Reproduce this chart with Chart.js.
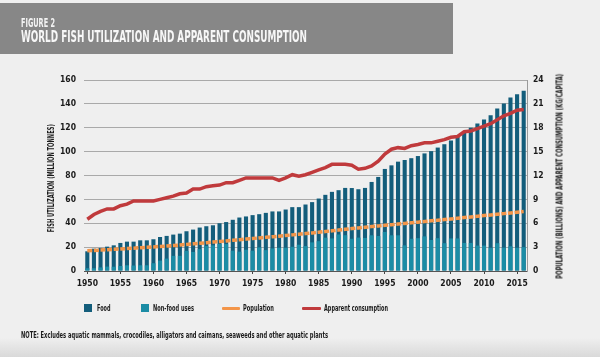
<!DOCTYPE html>
<html><head><meta charset="utf-8">
<script src="https://cdn.jsdelivr.net/npm/chart.js@4/dist/chart.umd.min.js"></script>
<style>
html,body{margin:0;padding:0;}
body{width:600px;height:357px;position:relative;overflow:hidden;background:linear-gradient(#efefef 0px,#efefef 338px,#d9d9d9 357px);font-family:"Liberation Sans Narrow","DejaVu Sans Condensed","Roboto Condensed","Liberation Sans",sans-serif;}
#band{position:absolute;left:0;top:3px;width:453px;height:51px;background:#878787;}
.t{position:absolute;white-space:nowrap;line-height:1;transform-origin:0 50%;font-weight:bold;color:#1a1a1a;}
.box{position:absolute;width:8px;height:8px;}
.ln{position:absolute;height:3px;border-radius:1px;}
#cv{position:absolute;left:0;top:0;}
</style></head>
<body>
<div id="band"></div>
<canvas id="cv" width="600" height="357"></canvas>
<div id="texts"></div>
<script>
const years = ["1950","1951","1952","1953","1954","1955","1956","1957","1958","1959","1960","1961","1962","1963","1964","1965","1966","1967","1968","1969","1970","1971","1972","1973","1974","1975","1976","1977","1978","1979","1980","1981","1982","1983","1984","1985","1986","1987","1988","1989","1990","1991","1992","1993","1994","1995","1996","1997","1998","1999","2000","2001","2002","2003","2004","2005","2006","2007","2008","2009","2010","2011","2012","2013","2014","2015","2016"];
// Food (million tonnes) - full bar height
const food = [16.5,18.7,19.3,20.4,21.5,23.5,24.6,24.6,25.7,25.7,26.6,28.5,29.4,30.5,31.3,33.3,34.7,36.4,37.5,38.3,40.0,41.0,42.9,44.8,45.7,46.8,47.6,48.7,49.9,49.9,51.5,53.5,53.5,55.7,57.7,60.7,63.8,66.3,67.7,69.6,69.5,68.5,69.6,74.6,78.8,85.5,88.5,91.6,93.0,94.5,96.3,98.5,100.4,103.4,106.2,109.3,113.1,116.6,120.0,123.6,127.0,130.4,136.2,140.3,145.3,148.1,151.0];
// Non-food uses (million tonnes)
const nonFood = [2.3,2.3,3.0,3.7,3.6,4.2,4.8,4.6,4.8,4.8,6.5,8.7,10.4,12.7,12.7,16.9,16.0,18.3,21.0,21.5,22.6,22.6,17.0,16.2,17.8,17.0,19.8,17.5,18.9,19.5,19.5,20.3,22.0,20.9,24.0,25.0,27.9,27.3,30.6,30.0,27.0,28.0,27.7,29.9,29.3,32.7,29.9,29.9,21.5,27.0,27.5,29.0,26.0,27.5,23.3,27.3,27.3,23.5,23.5,21.3,21.3,19.5,23.3,19.6,20.7,19.5,20.0];
// Population (billions)
const population = [2.54,2.58,2.63,2.68,2.72,2.77,2.82,2.87,2.93,2.98,3.03,3.08,3.14,3.20,3.27,3.34,3.41,3.48,3.55,3.63,3.70,3.78,3.86,3.93,4.01,4.08,4.16,4.23,4.30,4.38,4.46,4.54,4.62,4.70,4.78,4.87,4.96,5.05,5.14,5.24,5.33,5.41,5.50,5.58,5.66,5.74,5.82,5.90,5.98,6.06,6.14,6.22,6.30,6.38,6.46,6.54,6.62,6.71,6.79,6.87,6.96,7.04,7.13,7.21,7.30,7.38,7.47];
// Apparent consumption (kg/capita)
const consumption = [6.5,7.1,7.5,7.8,7.8,8.2,8.4,8.8,8.8,8.8,8.8,9.0,9.2,9.4,9.7,9.8,10.3,10.3,10.6,10.7,10.8,11.1,11.1,11.4,11.7,11.7,11.7,11.7,11.7,11.4,11.7,12.1,11.9,12.1,12.4,12.7,13.0,13.4,13.4,13.4,13.3,12.8,12.9,13.2,13.8,14.7,15.3,15.5,15.4,15.75,15.9,16.1,16.1,16.3,16.5,16.8,16.9,17.5,17.6,17.9,18.2,18.5,19.0,19.5,19.8,20.2,20.3];
const leftTicks = [0,20,40,60,80,100,120,140,160];
const rightTicks = [0,3,6,9,12,15,18,21,24];

const C_FOOD = '#135d7b', C_NONFOOD = '#1b8ca5', C_POP = '#f39549', C_CONS = '#c03a3c';
const FONT = '"Liberation Sans Narrow","DejaVu Sans Condensed","Roboto Condensed","Liberation Sans",sans-serif';
Chart.defaults.font.family = FONT;

new Chart(document.getElementById('cv'), {
  data: {
    labels: years,
    datasets: [
      {type:'bar', label:'Food', data: food, backgroundColor: C_FOOD, order: 3, grouped:false, yAxisID:'y', barPercentage:0.62, categoryPercentage:1},
      {type:'bar', label:'Non-food uses', data: nonFood, backgroundColor: C_NONFOOD, order: 2, grouped:false, yAxisID:'y', barPercentage:0.62, categoryPercentage:1},
      {type:'line', label:'Population', data: population, borderColor: C_POP, borderWidth:3.5, borderDash:[5,1.6], pointRadius:0, order:1, yAxisID:'y2', tension:0},
      {type:'line', label:'Apparent consumption', data: consumption, borderColor: C_CONS, borderWidth:3.5, pointRadius:0, order:0, yAxisID:'y2', tension:0}
    ]
  },
  options: {
    responsive:false, animation:false, devicePixelRatio:1,
    layout:{padding:{top:80,bottom:66,left:0,right:0}},
    plugins:{legend:{display:false}, tooltip:{enabled:false}},
    scales:{
      x:{
        offset:true,
        grid:{display:true, drawOnChartArea:false, drawTicks:true, tickLength:3, offset:false,
              color:(c)=> (c.tick && Number(years[c.index])%5===0) ? '#444' : 'rgba(0,0,0,0)'},
        border:{display:true, color:'#555', width:1},
        ticks:{autoSkip:false, maxRotation:0, minRotation:0, padding:5, color:'#1a1a1a',
               font:{size:8.5, weight:'bold'},
               callback:(v,i)=> Number(years[i])%5===0 ? years[i] : ''},
        afterFit:(s)=>{s.height=20;}
      },
      y:{
        position:'left', min:0, max:160,
        afterBuildTicks:(s)=>{s.ticks = leftTicks.map(v=>({value:v}));},
        grid:{color:'#a9a9a9', lineWidth:1, drawTicks:false},
        border:{display:false},
        ticks:{padding:8, color:'#1a1a1a', font:{size:8.5, weight:'bold'}},
        afterFit:(s)=>{s.width=84;}
      },
      y2:{
        position:'right', min:0, max:24,
        afterBuildTicks:(s)=>{s.ticks = rightTicks.map(v=>({value:v}));},
        grid:{drawOnChartArea:false, drawTicks:false},
        border:{display:true, color:'#9a9a9a', width:1},
        ticks:{padding:6, color:'#1a1a1a', font:{size:8.5, weight:'bold'}},
        afterFit:(s)=>{s.width=73;}
      }
    }
  }
});

// ---- HTML text / legend ----
const T = document.getElementById('texts');
function addText(str, x, cy, size, targetW, opts={}){
  const el = document.createElement('div');
  el.className='t';
  el.textContent=str;
  el.style.fontSize=size+'px';
  if(opts.color) el.style.color=opts.color;
  if(opts.weight) el.style.fontWeight=opts.weight;
  T.appendChild(el);
  const w = el.getBoundingClientRect().width, h = el.getBoundingClientRect().height;
  const k = targetW ? targetW/w : 1;
  if(opts.rot){
    el.style.transformOrigin='50% 50%';
    el.style.left=(x - w/2)+'px';
    el.style.top=(cy - h/2)+'px';
    el.style.transform='rotate(-90deg) scaleX('+k+')';
  } else {
    el.style.left=x+'px';
    el.style.top=(cy - h/2)+'px';
    el.style.transform='scaleX('+k+')';
  }
  return el;
}
addText('FIGURE 2', 21, 23, 12, 34, {color:'#f3f3f3'});
addText('WORLD FISH UTILIZATION AND APPARENT CONSUMPTION', 21, 36.5, 16, 286, {color:'#f7f7f7'});
addText('FISH UTILIZATION (MILLION TONNES)', 51, 178, 8.5, 108, {rot:true});
addText('POPULATION (BILLIONS) AND APPARENT CONSUMPTION (KG/CAPITA)', 559.5, 176, 8.5, 205, {rot:true});

function box(x,y,c){const b=document.createElement('div');b.className='box';b.style.left=x+'px';b.style.top=y+'px';b.style.background=c;T.appendChild(b);}
function line(x,y,w,c){const b=document.createElement('div');b.className='ln';b.style.left=x+'px';b.style.top=y+'px';b.style.width=w+'px';b.style.background=c;T.appendChild(b);}
box(84,304,C_FOOD); addText('Food', 96.5, 308, 9.5, 13.5, {weight:'bold'});
box(141,304,C_NONFOOD); addText('Non-food uses', 153, 308, 9.5, 41, {weight:'bold'});
line(221.5,306.5,18.5,C_POP); addText('Population', 243, 308, 9.5, 31, {weight:'bold'});
line(302,306.5,18.5,C_CONS); addText('Apparent consumption', 324, 308, 9.5, 64, {weight:'bold'});
addText('NOTE: Excludes aquatic mammals, crocodiles, alligators and caimans, seaweeds and other aquatic plants', 21, 335, 9, 307, {weight:'bold'});
</script>
</body></html>
